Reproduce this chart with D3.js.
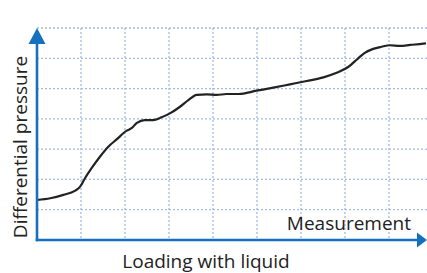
<!DOCTYPE html>
<html>
<head>
<meta charset="utf-8">
<script src="https://cdn.jsdelivr.net/npm/d3@7"></script>
<style>
  html, body { margin: 0; padding: 0; background: #fff; }
  text { font-family: "Open Sans", "Noto Sans", sans-serif; fill: #222; }
</style>
</head>
<body>
<div id="chart"></div>
<script>
// measurement run (x in grid units, y in grid units)
var loading = [0.0, 0.30, 0.60, 0.86, 0.98, 1.09, 1.24, 1.43, 1.62, 1.81, 2.04, 2.15, 2.27, 2.45, 2.64, 2.83, 3.02, 3.25, 3.44, 3.63, 3.86, 4.08, 4.31, 4.58, 4.99, 5.37, 5.75, 6.13, 6.51, 6.81, 7.08, 7.30, 7.45, 7.64, 7.83, 8.02, 8.25, 8.48, 8.70, 8.84];
var pressure = [1.32, 1.38, 1.49, 1.62, 1.76, 2.04, 2.37, 2.75, 3.08, 3.32, 3.61, 3.69, 3.87, 3.96, 3.96, 4.05, 4.18, 4.40, 4.62, 4.79, 4.81, 4.79, 4.82, 4.82, 4.93, 5.03, 5.14, 5.25, 5.37, 5.52, 5.72, 6.00, 6.18, 6.31, 6.38, 6.43, 6.41, 6.44, 6.47, 6.49];

var xGrid = [1, 2, 3, 4, 5, 6, 7, 8];
var yGrid = [1, 2, 3, 4, 5, 6, 7];

var xLabel = "Loading with liquid";
var yLabel = "Differential pressure";
var curveLabel = "Measurement";

const w = 427, h = 273;
const x = d3.scaleLinear().domain([0, 8]).range([37, 389]);
const y = d3.scaleLinear().domain([0, 7]).range([240, 28]);
const blue = "#1570bf";

const svg = d3.select("#chart").append("svg")
  .attr("width", w)
  .attr("height", h);

// dotted grid
svg.append("g").selectAll("line")
  .data(yGrid).enter().append("line")
  .attr("x1", x(0)).attr("x2", w)
  .attr("y1", d => y(d)).attr("y2", d => y(d))
  .attr("stroke", "#a3bbe6").attr("stroke-width", 1.3)
  .attr("stroke-dasharray", "2,2");

svg.append("g").selectAll("line")
  .data(xGrid).enter().append("line")
  .attr("x1", d => x(d)).attr("x2", d => x(d))
  .attr("y1", y(7)).attr("y2", y(0))
  .attr("stroke", "#a3bbe6").attr("stroke-width", 1.3)
  .attr("stroke-dasharray", "2,2");

// the curve
const pts = loading.map((v, i) => [v, pressure[i]]);
svg.append("path")
  .datum(pts)
  .attr("fill", "none")
  .attr("stroke", "#222")
  .attr("stroke-width", 2.2)
  .attr("stroke-linejoin", "round")
  .attr("d", d3.line().x(d => x(d[0])).y(d => y(d[1])).curve(d3.curveMonotoneX));

// axes with arrows
svg.append("line")
  .attr("x1", x(0)).attr("x2", x(0))
  .attr("y1", y(0) + 1.25).attr("y2", y(7) + 12)
  .attr("stroke", blue).attr("stroke-width", 2.6);
svg.append("line")
  .attr("x1", x(0) - 1.25).attr("x2", 418)
  .attr("y1", y(0)).attr("y2", y(0))
  .attr("stroke", blue).attr("stroke-width", 2.6);

svg.append("path")
  .attr("d", "M" + x(0) + "," + y(7) + " L" + (x(0) + 8.5) + "," + (y(7) + 16) + " L" + (x(0) - 8.5) + "," + (y(7) + 16) + " Z")
  .attr("fill", blue);
svg.append("path")
  .attr("d", "M427," + y(0) + " L417," + (y(0) - 7.5) + " L417," + (y(0) + 7.5) + " Z")
  .attr("fill", blue);

// labels
svg.append("text")
  .attr("x", 411).attr("y", 230)
  .attr("text-anchor", "end")
  .attr("font-size", 19)
  .text(curveLabel);

svg.append("text")
  .attr("x", 206).attr("y", 268)
  .attr("text-anchor", "middle")
  .attr("font-size", 19)
  .text(xLabel);

svg.append("text")
  .attr("transform", "translate(27,147) rotate(-90)")
  .attr("text-anchor", "middle")
  .attr("font-size", 19)
  .text(yLabel);
</script>
</body>
</html>
